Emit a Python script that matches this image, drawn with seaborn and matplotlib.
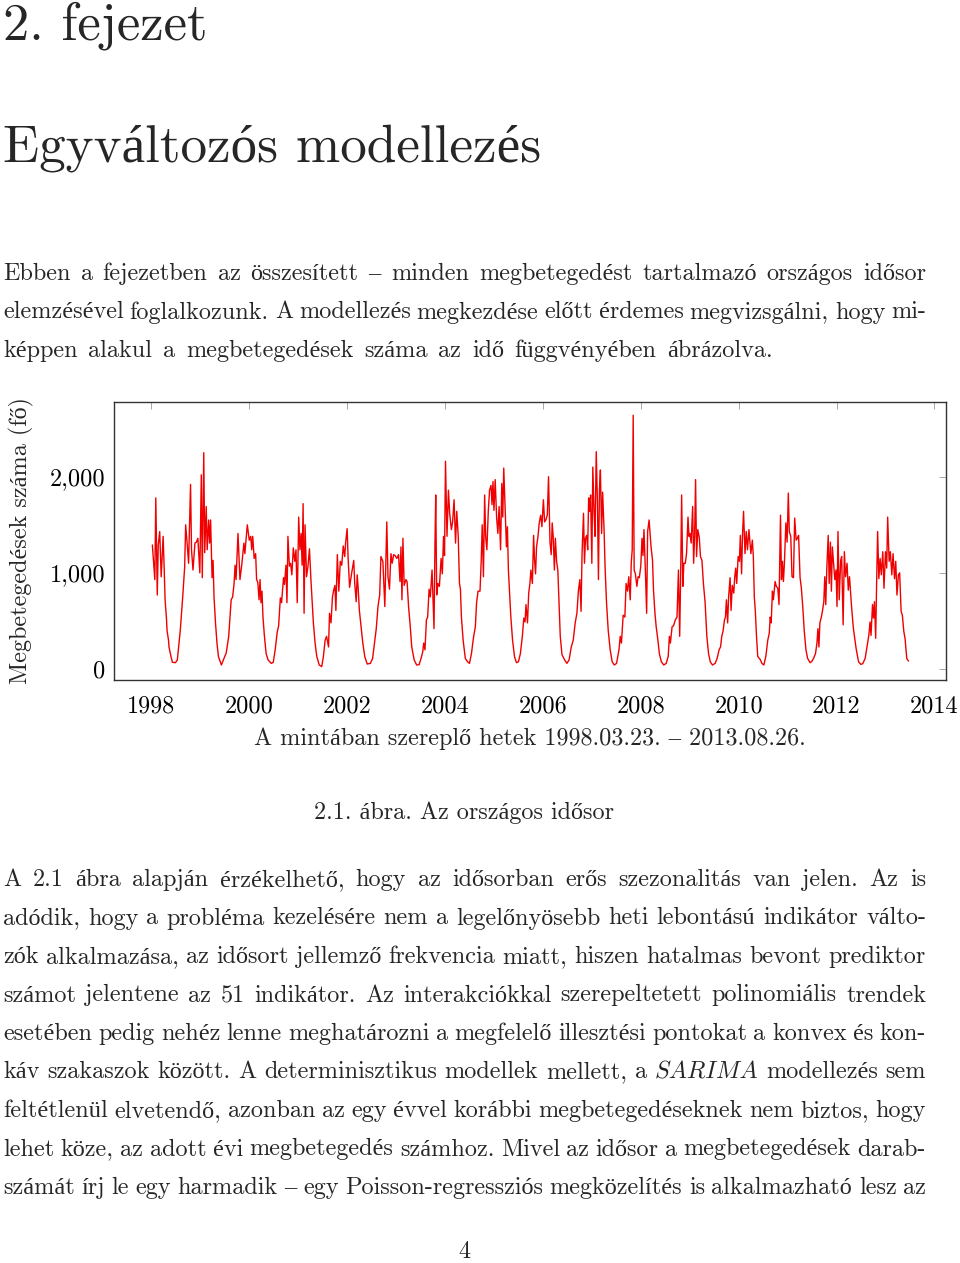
import matplotlib
matplotlib.use("Agg")
import numpy as np
import pandas as pd
import matplotlib.pyplot as plt
import seaborn as sns

# weekly case counts: (decimal year, cases)
seg_1998_1999 = [
    (1998.02, 1290), (1998.07, 930), (1998.09, 1780), (1998.12, 770), (1998.14, 1290),
    (1998.17, 1430), (1998.20, 960), (1998.24, 1380), (1998.26, 1070), (1998.28, 720),
    (1998.31, 510), (1998.32, 400), (1998.35, 300), (1998.36, 230), (1998.40, 130),
    (1998.43, 70), (1998.49, 66), (1998.53, 94), (1998.55, 200), (1998.59, 400),
    (1998.64, 750), (1998.68, 1060), (1998.70, 1500), (1998.73, 1310), (1998.76, 1100),
    (1998.80, 1920), (1998.82, 1240), (1998.85, 1030), (1998.89, 1310), (1998.92, 1320),
    (1998.95, 1360), (1998.99, 1000), (1999.02, 2020), (1999.04, 950), (1999.07, 2250),
    (1999.09, 1210), (1999.12, 1690), (1999.14, 1240), (1999.17, 1550), (1999.19, 1310),
    (1999.21, 1550), (1999.24, 950), (1999.26, 1130), (1999.28, 750), (1999.31, 480),
    (1999.34, 270), (1999.37, 130), (1999.43, 42), (1999.47, 94), (1999.53, 170),
    (1999.58, 340), (1999.63, 720), (1999.66, 750), (1999.69, 890), (1999.71, 1080),
    (1999.73, 930), (1999.77, 1410), (1999.81, 930), (1999.85, 1100), (1999.89, 1310),
    (1999.91, 1200), (1999.96, 1500), (2000.00, 1340),
]
seg_2000_2001 = [
    (2000.03, 1380), (2000.05, 1240), (2000.07, 1380), (2000.10, 1150), (2000.13, 1200),
    (2000.15, 930), (2000.175, 900), (2000.20, 720), (2000.22, 930), (2000.24, 690),
    (2000.26, 810), (2000.28, 540), (2000.31, 340), (2000.345, 160), (2000.385, 94),
    (2000.45, 59), (2000.49, 70), (2000.53, 200), (2000.57, 380), (2000.60, 450),
    (2000.635, 740), (2000.66, 690), (2000.70, 950), (2000.72, 880), (2000.75, 1080),
    (2000.77, 690), (2000.79, 1380), (2000.82, 1070), (2000.845, 1100), (2000.87, 980),
    (2000.90, 1260), (2000.93, 1120), (2000.955, 1240), (2000.98, 690), (2001.01, 1580),
    (2001.035, 1240), (2001.06, 1410), (2001.08, 1080), (2001.10, 1720), (2001.12, 580),
    (2001.14, 1500), (2001.17, 960), (2001.20, 1070), (2001.23, 1250), (2001.26, 930),
    (2001.28, 750), (2001.31, 480), (2001.345, 270), (2001.38, 130), (2001.43, 42),
    (2001.48, 25), (2001.515, 130), (2001.55, 300), (2001.58, 340), (2001.62, 230),
    (2001.64, 580), (2001.67, 480), (2001.70, 750), (2001.725, 820), (2001.75, 870),
    (2001.77, 610), (2001.80, 1190), (2001.83, 810), (2001.86, 1120), (2001.89, 1080),
    (2001.92, 1280), (2001.95, 1170), (2001.97, 1320), (2002.00, 1460), (2002.02, 1150),
    (2002.05, 850),
]
seg_2002_2003 = [
    (2002.09, 990), (2002.135, 1130), (2002.155, 890), (2002.185, 700), (2002.205, 980),
    (2002.225, 840), (2002.25, 610), (2002.285, 440), (2002.32, 270), (2002.36, 130),
    (2002.41, 52), (2002.475, 59), (2002.52, 110), (2002.565, 300), (2002.595, 420),
    (2002.63, 650), (2002.665, 770), (2002.69, 1170), (2002.73, 1120), (2002.77, 650),
    (2002.81, 1530), (2002.835, 960), (2002.865, 830), (2002.895, 1200), (2002.92, 1100),
    (2002.95, 1190), (2002.98, 1180), (2003.015, 1150), (2003.05, 1190), (2003.08, 910),
    (2003.10, 1270), (2003.12, 720), (2003.14, 1360), (2003.165, 870), (2003.20, 930),
    (2003.225, 910), (2003.255, 650), (2003.29, 440), (2003.32, 230), (2003.37, 94),
    (2003.42, 42), (2003.47, 45), (2003.51, 110), (2003.545, 180), (2003.565, 270),
    (2003.59, 200), (2003.62, 510), (2003.645, 540), (2003.675, 830), (2003.70, 750),
    (2003.735, 1030), (2003.755, 720), (2003.775, 420), (2003.795, 1310), (2003.81, 1810),
    (2003.83, 770), (2003.855, 890), (2003.885, 860), (2003.92, 1150), (2003.945, 990),
    (2003.97, 1380), (2003.99, 1180), (2004.01, 2160), (2004.04, 1380), (2004.07, 1860),
    (2004.095, 1620),
]
seg_2004_2005 = [
    (2004.13, 1450), (2004.155, 1530), (2004.185, 1760), (2004.215, 1310), (2004.24, 1640),
    (2004.27, 1380), (2004.295, 890), (2004.315, 830), (2004.335, 540), (2004.37, 300),
    (2004.415, 110), (2004.46, 76), (2004.50, 59), (2004.54, 160), (2004.585, 340),
    (2004.62, 440), (2004.645, 690), (2004.675, 810), (2004.715, 810), (2004.74, 1130),
    (2004.76, 1500), (2004.785, 960), (2004.81, 1810), (2004.83, 1380), (2004.855, 1240),
    (2004.885, 1650), (2004.91, 1860), (2004.94, 1910), (2004.96, 1710), (2004.98, 1950),
    (2005.00, 1650), (2005.025, 1970), (2005.055, 1570), (2005.08, 1410), (2005.105, 1690),
    (2005.135, 1240), (2005.16, 1930), (2005.18, 1580), (2005.20, 2090), (2005.23, 1650),
    (2005.255, 1270), (2005.275, 1480), (2005.295, 1030), (2005.315, 830), (2005.345, 540),
    (2005.38, 300), (2005.42, 130), (2005.46, 66), (2005.50, 76), (2005.54, 160),
    (2005.58, 340), (2005.61, 530), (2005.635, 490), (2005.655, 670), (2005.685, 480),
    (2005.71, 790), (2005.735, 890), (2005.755, 1030), (2005.785, 890), (2005.81, 1390),
    (2005.83, 1130), (2005.85, 990), (2005.87, 1270), (2005.90, 1380), (2005.925, 1520),
    (2005.955, 1600), (2005.98, 1480), (2006.01, 1760), (2006.035, 1530), (2006.06, 1550),
    (2006.09, 1600), (2006.115, 2000),
]
seg_2006_2007 = [
    (2006.145, 1320), (2006.17, 1190), (2006.19, 1520), (2006.21, 1380), (2006.235, 1030),
    (2006.255, 1360), (2006.28, 1120), (2006.305, 1030), (2006.335, 610), (2006.355, 340),
    (2006.39, 150), (2006.445, 94), (2006.49, 59), (2006.535, 94), (2006.58, 230),
    (2006.62, 300), (2006.66, 480), (2006.695, 580), (2006.725, 810), (2006.755, 930),
    (2006.78, 600), (2006.80, 1200), (2006.83, 1620), (2006.85, 1100), (2006.87, 1360),
    (2006.895, 1390), (2006.915, 1240), (2006.935, 1780), (2006.955, 1640), (2006.975, 1810),
    (2007.00, 1100), (2007.02, 2100), (2007.045, 1640), (2007.065, 1380), (2007.09, 2260),
    (2007.115, 1720), (2007.135, 930), (2007.155, 1860), (2007.175, 2070), (2007.20, 1410),
    (2007.22, 1840), (2007.25, 1450), (2007.27, 1070), (2007.30, 690), (2007.335, 400),
    (2007.375, 200), (2007.415, 76), (2007.46, 42), (2007.505, 59), (2007.555, 200),
    (2007.58, 340), (2007.605, 270), (2007.64, 560), (2007.675, 540), (2007.70, 890),
    (2007.73, 810), (2007.755, 960), (2007.785, 720), (2007.805, 1100), (2007.825, 1240),
    (2007.845, 2640), (2007.865, 1030), (2007.89, 990), (2007.92, 860), (2007.945, 960),
    (2007.97, 950), (2008.00, 1070), (2008.025, 1360), (2008.045, 1180), (2008.065, 1450),
    (2008.095, 1010), (2008.12, 580), (2008.14, 1430), (2008.17, 1550),
]
seg_2008_2009 = [
    (2008.21, 1270), (2008.24, 1130), (2008.26, 820), (2008.29, 580), (2008.315, 440),
    (2008.35, 300), (2008.38, 160), (2008.42, 76), (2008.47, 42), (2008.52, 59),
    (2008.56, 130), (2008.585, 340), (2008.605, 270), (2008.64, 440), (2008.67, 450),
    (2008.705, 510), (2008.74, 540), (2008.77, 1030), (2008.795, 340), (2008.815, 960),
    (2008.835, 1810), (2008.86, 860), (2008.88, 1100), (2008.91, 1100), (2008.935, 1200),
    (2008.965, 1580), (2008.985, 1380), (2009.005, 1410), (2009.03, 1310), (2009.06, 1690),
    (2009.08, 1100), (2009.10, 1380), (2009.12, 1970), (2009.14, 1170), (2009.165, 1450),
    (2009.195, 1370), (2009.22, 1170), (2009.25, 1130), (2009.28, 890), (2009.315, 690),
    (2009.35, 340), (2009.385, 160), (2009.42, 76), (2009.465, 42), (2009.52, 59),
    (2009.56, 110), (2009.60, 200), (2009.63, 230), (2009.655, 340), (2009.68, 390),
    (2009.71, 510), (2009.73, 540), (2009.75, 720), (2009.775, 480), (2009.795, 750),
    (2009.825, 950), (2009.845, 610), (2009.87, 870), (2009.90, 790), (2009.92, 960),
    (2009.94, 1050), (2009.96, 890), (2009.99, 1170), (2010.015, 1120), (2010.035, 1390),
    (2010.06, 990), (2010.08, 1410), (2010.10, 1640), (2010.13, 1200), (2010.155, 1430),
    (2010.18, 1240), (2010.21, 1450),
]
seg_2010_2011 = [
    (2010.25, 1200), (2010.28, 1340), (2010.30, 1170), (2010.32, 750), (2010.34, 610),
    (2010.365, 340), (2010.39, 130), (2010.44, 100), (2010.475, 59), (2010.515, 42),
    (2010.555, 130), (2010.595, 300), (2010.625, 370), (2010.645, 540), (2010.665, 480),
    (2010.69, 810), (2010.71, 720), (2010.745, 910), (2010.77, 860), (2010.80, 840),
    (2010.825, 670), (2010.855, 1600), (2010.875, 930), (2010.895, 1120), (2010.915, 910),
    (2010.935, 1100), (2010.965, 1520), (2010.99, 1320), (2011.015, 1830), (2011.035, 1430),
    (2011.065, 1380), (2011.09, 960), (2011.12, 950), (2011.145, 1570), (2011.175, 1340),
    (2011.20, 1360), (2011.225, 1390), (2011.255, 950), (2011.28, 850), (2011.31, 650),
    (2011.34, 400), (2011.375, 200), (2011.41, 110), (2011.46, 66), (2011.49, 76),
    (2011.53, 110), (2011.57, 160), (2011.60, 270), (2011.62, 420), (2011.64, 230),
    (2011.66, 480), (2011.69, 540), (2011.715, 610), (2011.74, 700), (2011.76, 960),
    (2011.78, 670), (2011.80, 1030), (2011.83, 1390), (2011.85, 890), (2011.875, 1320),
    (2011.895, 810), (2011.915, 1270), (2011.935, 1130), (2011.965, 930), (2011.99, 1030),
    (2012.01, 650), (2012.03, 1430), (2012.055, 720), (2012.085, 1130), (2012.105, 1170),
    (2012.135, 460), (2012.16, 1220), (2012.185, 960), (2012.215, 1100), (2012.24, 820),
    (2012.265, 960),
]
seg_2012_2013 = [
    (2012.31, 630), (2012.345, 420), (2012.40, 215), (2012.45, 76), (2012.495, 49),
    (2012.535, 55), (2012.585, 110), (2012.63, 250), (2012.66, 350), (2012.685, 490),
    (2012.705, 350), (2012.735, 670), (2012.755, 530), (2012.775, 700), (2012.80, 320),
    (2012.82, 910), (2012.84, 1430), (2012.865, 940), (2012.89, 1150), (2012.915, 980),
    (2012.945, 1220), (2012.97, 840), (2013.00, 1220), (2013.025, 1050), (2013.045, 1580),
    (2013.075, 1120), (2013.10, 1220), (2013.13, 980), (2013.155, 1200), (2013.185, 940),
    (2013.21, 1120), (2013.235, 770), (2013.265, 980), (2013.29, 1000), (2013.32, 600),
    (2013.345, 560), (2013.375, 390), (2013.40, 320), (2013.435, 110), (2013.47, 83),
]
segments = [seg_1998_1999, seg_2000_2001, seg_2002_2003, seg_2004_2005,
            seg_2006_2007, seg_2008_2009, seg_2010_2011, seg_2012_2013]

x_ticks = [1998, 2000, 2002, 2004, 2006, 2008, 2010, 2012, 2014]
y_ticks = [0, 1000, 2000]
y_ticklabels = ["0", "1,000", "2,000"]

para1 = [
    "Ebben a fejezetben az összesített – minden megbetegedést tartalmazó országos idősor",
    "elemzésével foglalkozunk. A modellezés megkezdése előtt érdemes megvizsgálni, hogy mi-",
    "képpen alakul a megbetegedések száma az idő függvényében ábrázolva.",
]
para2 = [
    "A 2.1 ábra alapján érzékelhető, hogy az idősorban erős szezonalitás van jelen. Az is",
    "adódik, hogy a probléma kezelésére nem a legelőnyösebb heti lebontású indikátor válto-",
    "zók alkalmazása, az idősort jellemző frekvencia miatt, hiszen hatalmas bevont prediktor",
    "számot jelentene az 51 indikátor. Az interakciókkal szerepeltetett polinomiális trendek",
    "esetében pedig nehéz lenne meghatározni a megfelelő illesztési pontokat a konvex és kon-",
    "káv szakaszok között. A determinisztikus modellek mellett, a SARIMA modellezés sem",
    "feltétlenül elvetendő, azonban az egy évvel korábbi megbetegedéseknek nem biztos, hogy",
    "lehet köze, az adott évi megbetegedés számhoz. Mivel az idősor a megbetegedések darab-",
    "számát írj le egy harmadik – egy Poisson-regressziós megközelítés is alkalmazható lesz az",
]

sns.set_theme(style="white")
FONT = ["cmr10", "Liberation Serif"]
plt.rcParams["font.family"] = FONT
plt.rcParams["axes.unicode_minus"] = False

W, H = 960, 1263
fig = plt.figure(figsize=(W / 100, H / 100), dpi=100)
renderer = fig.canvas.get_renderer()


def fx(x):
    return x / W


def fy(y):
    return 1 - y / H


def text_width(s, size, family=FONT):
    t = fig.text(0, 0, s, fontsize=size, family=family)
    w = t.get_window_extent(renderer).width
    t.remove()
    return w


def fam(w):
    return ["cmmi10"] if w == "SARIMA" else FONT


def fit_size(s, target):
    return 20 * target / text_width(s, 20)


# body size matched on the caption width
body = fit_size("2.1. ábra. Az országos idősor", 301)


def set_line(line, y, x0=3, x1=926, size=body):
    words = line.split(" ")
    fams = [fam(w) for w in words]
    widths = [text_width(w, size, f) for w, f in zip(words, fams)]
    gap = (x1 - x0 - sum(widths)) / (len(words) - 1)
    x = x0
    for w, f, wd in zip(words, fams, widths):
        fig.text(fx(x), fy(y), w, fontsize=size, family=f, va="baseline", ha="left")
        x += wd + gap


# headings
fig.text(fx(3), fy(40), "2. fejezet", fontsize=fit_size("2. fejezet", 204), va="baseline")
fig.text(fx(3), fy(161), "Egyváltozós modellezés",
         fontsize=fit_size("Egyváltozós modellezés", 538), va="baseline")

line_ends = [926, 926, 773]
for i, ln in enumerate(para1):
    set_line(ln, 280 + i * 38.5, x1=line_ends[i])

# chart
df = pd.concat([pd.DataFrame(s, columns=["year", "cases"]) for s in segments], ignore_index=True)
ax = fig.add_axes([fx(114), fy(680), 832 / W, 278 / H])
sns.lineplot(data=df, x="year", y="cases", ax=ax, color="#f00000", linewidth=1.0,
             sort=False, estimator=None)
ax.set_xlim(1997.236, 2014.237)
ax.set_ylim(-114, 2777)
ax.set_xticks(x_ticks)
ax.set_xticklabels([str(v) for v in x_ticks])
ax.set_yticks(y_ticks)
ax.set_yticklabels(y_ticklabels)
ax.tick_params(direction="in", length=5, width=0.6, color="#9a9a9a",
               top=True, right=True, labelsize=body, labelcolor="black")
ax.tick_params(axis="x", pad=11)
ax.tick_params(axis="y", pad=6)
for sp in ax.spines.values():
    sp.set_color("#333333")
    sp.set_linewidth(1.0)
ax.grid(False)
ax.set_xlabel("A mintában szereplő hetek 1998.03.23. – 2013.08.26.", fontsize=body)
ax.xaxis.set_label_coords(0.5, -(739 - 680) / 278)
ax.xaxis.label.set_va("center")
ax.set_ylabel("Megbetegedések száma (fő)", fontsize=body)
ax.yaxis.set_label_coords(-(114 - 21) / 832, (680 - 541) / 278)
ax.yaxis.label.set_va("center")

fig.text(fx(464), fy(819), "2.1. ábra. Az országos idősor", fontsize=body,
         ha="center", va="baseline")

for i, ln in enumerate(para2):
    set_line(ln, 886 + i * 38.5)

fig.text(fx(464), fy(1263), "4", fontsize=body, ha="center", va="bottom")

fig.savefig("out.png", dpi=100)
